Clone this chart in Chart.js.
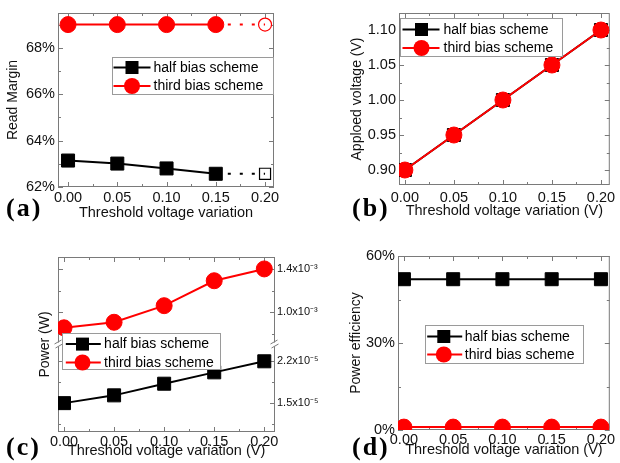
<!DOCTYPE html>
<html><head><meta charset="utf-8">
<script src="https://cdn.jsdelivr.net/npm/chart.js@4.4.1/dist/chart.umd.min.js"></script>
<style>
html,body{margin:0;padding:0;background:#fff;}
#wrap{position:relative;width:620px;height:463px;overflow:hidden;background:#fff;}
#wrap canvas{position:absolute;}
.plabel{position:absolute;font-family:"Liberation Serif","Times New Roman",serif;font-weight:bold;font-size:26px;line-height:26px;letter-spacing:2px;color:#000;}
</style></head><body>
<div id="wrap">
<canvas id="cA" width="310" height="231" style="left:0;top:0"></canvas>
<canvas id="cB" width="310" height="231" style="left:310px;top:0"></canvas>
<canvas id="cC" width="330" height="232" style="left:0;top:231px"></canvas>
<canvas id="cD" width="310" height="232" style="left:310px;top:231px"></canvas>
<div class="plabel" style="left:6px;top:195px">(a)</div>
<div class="plabel" style="left:352px;top:195px">(b)</div>
<div class="plabel" style="left:6px;top:434px">(c)</div>
<div class="plabel" style="left:352px;top:434px">(d)</div>
</div>
<script>
// ---------------- data ----------------
const thresholds = [0.00, 0.05, 0.10, 0.15, 0.20];
const seriesNames = ['half bias scheme', 'third bias scheme'];

const readMarginHalf  = [63.14, 63.01, 62.80, 62.57, 62.57];   // %
const readMarginThird = [69.0, 69.0, 69.0, 69.0, 69.0];         // %

const appliedHalf  = [0.90, 0.95, 1.00, 1.05, 1.10];            // V
const appliedThird = [0.90, 0.95, 1.00, 1.05, 1.10];            // V

const powerHalf  = [1.50e-5, 1.63e-5, 1.825e-5, 2.015e-5, 2.20e-5]; // W
const powerThird = [0.857e-3, 0.908e-3, 1.061e-3, 1.291e-3, 1.40e-3]; // W

const effHalf  = [52, 52, 52, 52, 52];   // %
const effThird = [1, 1, 1, 1, 1];        // %

const powerTopTicks  = [0.8e-3, 1.0e-3, 1.2e-3, 1.4e-3];
const powerTopLabels = ['', '1.0x10\u207B\u00B3', '', '1.4x10\u207B\u00B3'];
const powerBotTicks  = [1.15e-5, 1.5e-5, 1.85e-5, 2.2e-5];
const powerBotLabels = ['', '1.5x10\u207B\u2075', '', '2.2x10\u207B\u2075'];

// ---------------- styling ----------------
const FONT = '"Liberation Sans", Arial, Helvetica, sans-serif';
const RED = '#ff0000', BLACK = '#000000', FRAME = '#7a7a7a';
Chart.defaults.font.family = FONT;
Chart.defaults.color = '#111';
const noGrid = () => ({display: false, drawTicks: false, tickLength: 0});

const pts = vals => thresholds.map((x, i) => ({x, y: vals[i]}));

// frame with inward ticks on all sides
const framePlugin = {
  id: 'frame',
  beforeDatasetsDraw(chart, args, o) {
    const {ctx, chartArea: a} = chart;
    ctx.save();
    ctx.strokeStyle = FRAME; ctx.lineWidth = 1;
    ctx.strokeRect(a.left + 0.5, a.top + 0.5, a.right - a.left - 1, a.bottom - a.top - 1);
    ctx.beginPath();
    const xs = chart.scales[o.x];
    xs.ticks.forEach(t => {
      const p = Math.round(xs.getPixelForValue(t.value)) + 0.5;
      if (p < a.left || p > a.right) return;
      const len = t.label !== '' ? 5 : 3;
      ctx.moveTo(p, a.bottom); ctx.lineTo(p, a.bottom - len);
      ctx.moveTo(p, a.top); ctx.lineTo(p, a.top + len);
    });
    o.y.forEach(id => {
      const ys = chart.scales[id];
      ys.ticks.forEach(t => {
        const p = Math.round(ys.getPixelForValue(t.value)) + 0.5;
        if (p < ys.top - 0.5 || p > ys.bottom + 0.5) return;
        const len = t.label !== '' ? 5 : 3;
        ctx.moveTo(a.left, p); ctx.lineTo(a.left + len, p);
        ctx.moveTo(a.right, p); ctx.lineTo(a.right - len, p);
      });
    });
    ctx.stroke();
    if (o.breakAt) {
      const yb = chart.scales[o.breakAt].bottom;
      [a.left + 0.5, a.right - 0.5].forEach(xb => {
        ctx.fillStyle = '#fff';
        ctx.fillRect(xb - 2, yb - 2, 4, 4);
        ctx.beginPath();
        ctx.moveTo(xb - 4, yb - 0.5); ctx.lineTo(xb + 3, yb - 4.5);
        ctx.moveTo(xb - 3, yb + 3.5); ctx.lineTo(xb + 4, yb - 0.5);
        ctx.stroke();
      });
    }
    ctx.restore();
  }
};

// legend inside the plot, with line + marker samples
const insideLegend = {
  id: 'insideLegend',
  afterDatasetsDraw(chart, args, o) {
    const {ctx, chartArea: a} = chart;
    const bx = Math.round(a.left + o.x) + 0.5, by = Math.round(a.top + o.y) + 0.5;
    ctx.save();
    ctx.fillStyle = '#fff';
    ctx.fillRect(bx, by, o.w, o.h);
    ctx.strokeStyle = '#9a9a9a'; ctx.lineWidth = 1;
    ctx.strokeRect(bx, by, o.w, o.h);
    chart.data.datasets.slice().sort((p, q) => p.legendIndex - q.legendIndex).forEach((ds, i) => {
      const y = by + o.rows[i];
      ctx.strokeStyle = ds.borderColor; ctx.lineWidth = 2;
      ctx.beginPath(); ctx.moveTo(bx + o.l0, y); ctx.lineTo(bx + o.l1, y); ctx.stroke();
      ctx.fillStyle = ds.borderColor;
      const mx = bx + o.m;
      if (ds.pointStyle === 'rect') {
        ctx.fillRect(mx - 6.5, y - 6.5, 13, 13);
      } else {
        ctx.beginPath(); ctx.arc(mx, y, 8, 0, Math.PI * 2); ctx.fill();
      }
      ctx.fillStyle = '#000';
      ctx.font = '14px ' + FONT;
      ctx.textBaseline = 'middle'; ctx.textAlign = 'left';
      ctx.fillText(ds.label, bx + o.t, y + 0.5);
    });
    ctx.restore();
  }
};

const tickFont = {size: 14.5};
const xTitleFont = {size: 14.5};
const yTitleFont = {size: 14};

function xAxis(min, max, title, height, tickPad, titlePadBottom) {
  return {
    type: 'linear', position: 'bottom', min, max,
    grid: noGrid(), border: {display: false},
    ticks: {
      stepSize: 0.025, autoSkip: false, maxRotation: 0, includeBounds: false,
      padding: tickPad, font: tickFont, color: '#111',
      callback: v => (Math.abs(Math.round(v / 0.05) * 0.05 - v) < 1e-9 ? Math.abs(v).toFixed(2) : '')
    },
    title: {display: true, text: title, font: xTitleFont, color: '#111', padding: {top: 0, bottom: titlePadBottom}},
    afterFit: s => { s.height = height; }
  };
}

function lineDs(label, data, color, style, yAxisID, extra) {
  return Object.assign({
    label, data, borderColor: color, backgroundColor: color,
    pointBackgroundColor: color, pointBorderColor: color,
    borderWidth: 2, pointStyle: style, pointRadius: style === 'rect' ? 9.2 : 8,
    pointBorderWidth: 1, tension: 0, yAxisID,
    legendIndex: label === seriesNames[0] ? 0 : 1
  }, extra || {});
}

const commonOpts = {
  responsive: false, animation: false, devicePixelRatio: 1,
  events: [],
  plugins: {legend: {display: false}, tooltip: {enabled: false}}
};

// dotted tail + hollow marker for the last point of panel (a)
const tailExtra = (hollowRadius) => ({
  segment: {borderDash: c => (c.p1DataIndex === 4 ? [3, 9] : undefined)},
  pointBackgroundColor: c => (c.dataIndex === 4 ? 'rgba(255,255,255,0)' : c.dataset.borderColor),
  pointRadius: c => (c.dataIndex === 4 ? hollowRadius : (c.dataset.pointStyle === 'rect' ? 9.2 : 8)),
  pointBorderWidth: c => (c.dataIndex === 4 ? 1.2 : 1)
});

// ---------------- (a) Read margin ----------------
new Chart(document.getElementById('cA'), {
  type: 'line',
  data: {datasets: [
    lineDs(seriesNames[1], pts(readMarginThird), RED, 'circle', 'y', Object.assign(tailExtra(6.5), {order: 0})),
    lineDs(seriesNames[0], pts(readMarginHalf), BLACK, 'rect', 'y', Object.assign(tailExtra(7.8), {order: 1}))
  ]},
  options: Object.assign({}, commonOpts, {
    layout: {padding: {left: 0, top: 13, right: 36, bottom: 0}},
    scales: {
      x: xAxis(-0.0102, 0.2091, 'Threshold voltage variation', 44, 2, 9.3),
      y: {
        min: 62, max: 69.5,
        grid: noGrid(), border: {display: false},
        ticks: {stepSize: 1, includeBounds: false, padding: 3, font: tickFont, color: '#111',
                callback: v => (v % 2 === 0 ? v + '%' : '')},
        title: {display: true, text: 'Read Margin', font: yTitleFont, color: '#111', padding: {top: 4.6, bottom: 0}},
        afterFit: s => { s.width = 58; }
      }
    },
    plugins: Object.assign({}, commonOpts.plugins, {
      frame: {x: 'x', y: ['y']},
      insideLegend: {x: 54, y: 44, w: 161, h: 37, rows: [10, 28.5], l0: 1, l1: 38, m: 19.5, t: 41}
    })
  }),
  plugins: [framePlugin, insideLegend]
});

// ---------------- (b) Applied voltage ----------------
new Chart(document.getElementById('cB'), {
  type: 'line',
  data: {datasets: [
    lineDs(seriesNames[1], pts(appliedThird), RED, 'circle', 'y', {order: 0}),
    lineDs(seriesNames[0], pts(appliedHalf), BLACK, 'rect', 'y', {order: 1})
  ]},
  options: Object.assign({}, commonOpts, {
    layout: {padding: {left: 0, top: 13, right: 5, bottom: 0}},
    scales: {
      x: xAxis(-0.006, 0.209, 'Threshold voltage variation (V)', 46, 4.5, 11.3),
      y: {
        min: 0.8786, max: 1.1243,
        grid: noGrid(), border: {display: false},
        ticks: {stepSize: 0.025, includeBounds: false, padding: 3, font: tickFont, color: '#111',
                callback: v => (Math.abs(Math.round(v / 0.05) * 0.05 - v) < 1e-9 ? v.toFixed(2) : '')},
        title: {display: true, text: 'Apploed voltage (V)', font: yTitleFont, color: '#111', padding: {top: 38.6, bottom: 0}},
        afterFit: s => { s.width = 89; }
      }
    },
    plugins: Object.assign({}, commonOpts.plugins, {
      frame: {x: 'x', y: ['y']},
      insideLegend: {x: 1, y: 5, w: 162, h: 38, rows: [11, 29.5], l0: 2, l1: 39, m: 21, t: 43}
    })
  }),
  plugins: [framePlugin, insideLegend]
});

// ---------------- (c) Power (broken axis) ----------------
new Chart(document.getElementById('cC'), {
  type: 'line',
  data: {datasets: [
    lineDs(seriesNames[1], pts(powerThird), RED, 'circle', 'yTop', {order: 0}),
    lineDs(seriesNames[0], pts(powerHalf), BLACK, 'rect', 'yBot', {order: 1})
  ]},
  options: Object.assign({}, commonOpts, {
    layout: {padding: {left: 0, top: 26, right: 0, bottom: 0}},
    scales: {
      x: xAxis(-0.006, 0.2107, 'Threshold voltage variation (V)', 31, 1, 3.3),
      yL: {
        position: 'left', min: 0, max: 1,
        grid: noGrid(), border: {display: false},
        ticks: {display: false},
        title: {display: true, text: 'Power (W)', font: yTitleFont, color: '#111', padding: {top: 36.6, bottom: 0}},
        afterFit: s => { s.width = 58; }
      },
      yTop: {
        position: 'right', stack: 'power', stackWeight: 1,
        min: 0.703e-3, max: 1.51e-3,
        grid: noGrid(), border: {display: false},
        afterBuildTicks: s => { s.ticks = powerTopTicks.map(v => ({value: v})); },
        ticks: {autoSkip: false, padding: 2, font: {size: 11}, color: '#111',
                callback: (v, i) => powerTopLabels[i]},
        afterFit: s => { s.width = 55; }
      },
      yBot: {
        position: 'right', stack: 'power', stackWeight: 1,
        min: 1.017e-5, max: 2.481e-5,
        grid: noGrid(), border: {display: false},
        afterBuildTicks: s => { s.ticks = powerBotTicks.map(v => ({value: v})); },
        ticks: {autoSkip: false, padding: 2, font: {size: 11}, color: '#111',
                callback: (v, i) => powerBotLabels[i]},
        afterFit: s => { s.width = 55; }
      }
    },
    plugins: Object.assign({}, commonOpts.plugins, {
      frame: {x: 'x', y: ['yTop', 'yBot'], breakAt: 'yTop'},
      insideLegend: {x: 3.7, y: 75.7, w: 158, h: 36, rows: [10.6, 29], l0: 3.3, l1: 38.3, m: 20, t: 41.6}
    })
  }),
  plugins: [framePlugin, insideLegend]
});

// ---------------- (d) Power efficiency ----------------
new Chart(document.getElementById('cD'), {
  type: 'line',
  data: {datasets: [
    lineDs(seriesNames[1], pts(effThird), RED, 'circle', 'y', {order: 0}),
    lineDs(seriesNames[0], pts(effHalf), BLACK, 'rect', 'y', {order: 1})
  ]},
  options: Object.assign({}, commonOpts, {
    layout: {padding: {left: 0, top: 25, right: 5, bottom: 0}},
    scales: {
      x: xAxis(-0.006, 0.209, 'Threshold voltage variation (V)', 33, 1, 4.3),
      y: {
        min: 0, max: 60,
        grid: noGrid(), border: {display: false},
        ticks: {stepSize: 15, padding: 3, font: tickFont, color: '#111',
                callback: v => (v % 30 === 0 ? v + '%' : '')},
        title: {display: true, text: 'Power efficiency', font: yTitleFont, color: '#111', padding: {top: 37.6, bottom: 0}},
        afterFit: s => { s.width = 88; }
      }
    },
    plugins: Object.assign({}, commonOpts.plugins, {
      frame: {x: 'x', y: ['y']},
      insideLegend: {x: 27, y: 69, w: 158, h: 38, rows: [11, 29], l0: 1.7, l1: 36.7, m: 18.3, t: 39.3}
    })
  }),
  plugins: [framePlugin, insideLegend]
});
</script>
</body></html>
